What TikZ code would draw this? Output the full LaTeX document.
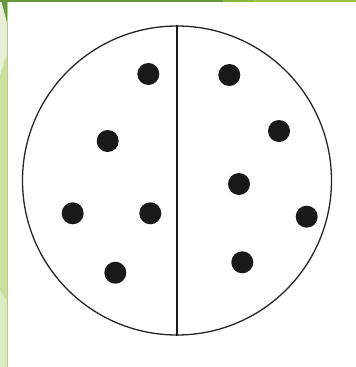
\documentclass[tikz,border=0pt]{standalone}
\definecolor{barA}{RGB}{106,150,62}
\definecolor{barB}{RGB}{138,178,64}
\definecolor{barC}{RGB}{156,196,62}
\definecolor{stripMid}{RGB}{200,224,156}
\definecolor{stripPale}{RGB}{230,240,214}
\definecolor{stripLow}{RGB}{220,235,195}
\definecolor{stripEdge}{RGB}{185,195,170}
\begin{document}
\begin{tikzpicture}[x=1pt,y=-1pt,
  dot/.style={circle,fill=black!90,inner sep=0pt,minimum size=22pt},
  rim/.style={draw=black!85,line width=1.3pt}]
\useasboundingbox (0,0) rectangle (356,367);
\fill[white] (0,0) rectangle (356,367);
% left strip
\fill[stripMid] (0,0) rectangle (6.5,367);
\fill[stripPale] (0,0) -- (6.5,0) -- (6.5,55) -- (0,75) -- cycle;
\fill[stripLow] (0,290) -- (6.5,300) -- (6.5,367) -- (0,367) -- cycle;
\fill[barA] (1,0) -- (7,0) -- (7,22) -- cycle;
\draw[stripEdge,line width=1pt] (7,0) -- (7,367);
% top bar
\fill[barA] (0,0) rectangle (223,2.2);
\fill[barB] (223,0) rectangle (253,2.2);
\fill[barC] (253,0) rectangle (356,2.2);
% circle
\coordinate (c) at (177,180.5);
\node[circle,rim,minimum size=309pt,inner sep=0pt] (ring) at (c) {};
\draw[black!90,line width=1.2pt] (ring.north) -- (ring.south);
% dots
\node[dot] (d1) at (148.3,74) {};
\node[dot] (d2) at (107.7,141) {};
\node[dot] (d3) at (72.7,213.3) {};
\node[dot] (d4) at (150.3,213.3) {};
\node[dot] (d5) at (115.3,272.7) {};
\node[dot] (d6) at (229.3,75) {};
\node[dot] (d7) at (279,131) {};
\node[dot] (d8) at (239,184) {};
\node[dot] (d9) at (306.7,216.7) {};
\node[dot] (d10) at (242.3,262.3) {};
\end{tikzpicture}
\end{document}
